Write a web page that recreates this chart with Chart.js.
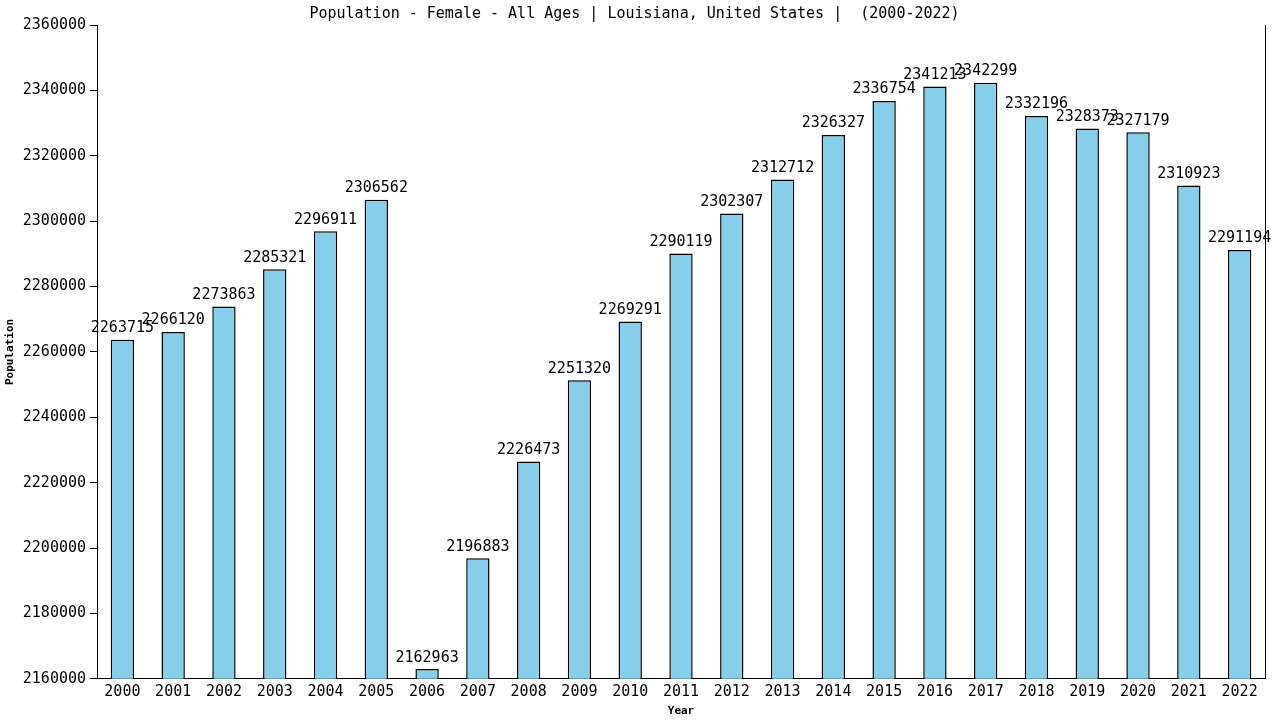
<!DOCTYPE html>
<html>
<head>
<meta charset="utf-8">
<script src="https://cdn.jsdelivr.net/npm/chart.js@4.4.1/dist/chart.umd.min.js"></script>
<style>
  html, body { margin: 0; padding: 0; background: #fff; }
  #wrap { width: 1280px; height: 720px; }
</style>
</head>
<body>
<div id="wrap"><canvas id="c" width="1280" height="720"></canvas></div>
<script>
// data
const years = ['2000', '2001', '2002', '2003', '2004', '2005', '2006', '2007', '2008', '2009', '2010', '2011',
  '2012', '2013', '2014', '2015', '2016', '2017', '2018', '2019', '2020', '2021', '2022'];
const femalePop = [2263715, 2266120, 2273863, 2285321, 2296911, 2306562, 2162963, 2196883, 2226473, 2251320,
  2269291, 2290119, 2302307, 2312712, 2326327, 2336754, 2341213, 2342299, 2332196, 2328373, 2327179, 2310923, 2291194];
const yTicks = [2160000, 2180000, 2200000, 2220000, 2240000, 2260000, 2280000, 2300000, 2320000, 2340000, 2360000];

const FONT = '"DejaVu Sans Mono", monospace';

// value labels above each bar + right frame line
const barLabels = {
  id: 'barLabels',
  afterDatasetsDraw(chart) {
    const ctx = chart.ctx;
    const meta = chart.getDatasetMeta(0);
    ctx.save();
    ctx.font = '15px ' + FONT;
    ctx.fillStyle = '#000';
    ctx.textAlign = 'center';
    ctx.textBaseline = 'bottom';
    meta.data.forEach((bar, i) => {
      ctx.fillText(String(femalePop[i]), bar.x, bar.y - 4);
    });
    const a = chart.chartArea;
    ctx.strokeStyle = '#000';
    ctx.lineWidth = 1;
    ctx.beginPath();
    ctx.moveTo(a.right + 0.5, a.top);
    ctx.lineTo(a.right + 0.5, a.bottom);
    ctx.stroke();
    ctx.restore();
  }
};

new Chart(document.getElementById('c'), {
  type: 'bar',
  data: {
    labels: years,
    datasets: [{
      data: femalePop,
      backgroundColor: '#87ceeb',
      borderColor: '#000',
      borderWidth: 1.5,
      borderSkipped: 'bottom',
      barPercentage: 0.46,
      categoryPercentage: 1
    }]
  },
  options: {
    responsive: false,
    animation: false,
    layout: { padding: { top: 0, right: 15, bottom: 2, left: 4 } },
    plugins: {
      legend: { display: false },
      tooltip: { enabled: false },
      title: {
        display: true,
        text: 'Population - Female - All Ages | Louisiana, United States |  (2000-2022)',
        color: '#000',
        font: { family: FONT, size: 15, weight: 'normal' },
        padding: { top: 5, bottom: 2 }
      }
    },
    scales: {
      x: {
        grid: { display: false, drawTicks: false },
        border: { color: '#000', width: 1 },
        ticks: { color: '#000', font: { family: FONT, size: 15 }, padding: 4, maxRotation: 0 },
        title: {
          display: true, text: 'Year', color: '#000',
          font: { family: FONT, size: 11, weight: 'bold' }, padding: { top: 0, bottom: 0 }
        }
      },
      y: {
        min: 2160000,
        max: 2360000,
        afterBuildTicks(axis) { axis.ticks = yTicks.map(v => ({ value: v })); },
        afterFit(axis) { axis.width = 93; },
        grid: { display: true, drawOnChartArea: false, drawTicks: true, tickLength: 7, color: '#000' },
        border: { color: '#000', width: 1 },
        ticks: { color: '#000', font: { family: FONT, size: 15 }, padding: 4, callback: v => String(v) },
        title: {
          display: true, text: 'Population', color: '#000',
          font: { family: FONT, size: 11, weight: 'bold' }, padding: { top: 0, bottom: 2 }
        }
      }
    }
  },
  plugins: [barLabels]
});
</script>
</body>
</html>
